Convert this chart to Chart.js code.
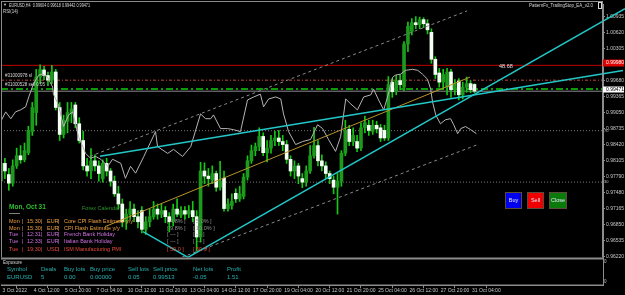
<!DOCTYPE html>
<html>
<head>
<meta charset="utf-8">
<script src="https://cdn.jsdelivr.net/npm/chart.js@4.4.0/dist/chart.umd.min.js"></script>
<style>
  html, body { margin: 0; padding: 0; background: #000; }
  canvas { display: block; }
</style>
</head>
<body>
<canvas id="grafico" width="625" height="295"></canvas>
<script>
// EURUSD H4 candles, bar 1 = 3 Oct 04:00
const opens = [
  0.9770, 0.9805, 0.9783, 0.9766, 0.9800, 0.9820, 0.9812, 0.9826, 0.9868, 0.9905,
  0.9975, 0.9989, 0.9978, 0.9969, 0.9985, 0.9915, 0.9862, 0.9888, 0.9905, 0.9920,
  0.9883, 0.9850, 0.9800, 0.9790, 0.9810, 0.9800, 0.9775, 0.9805, 0.9790, 0.9770,
  0.9745, 0.9725, 0.9690, 0.9705, 0.9715, 0.9700, 0.9712, 0.9675, 0.9690, 0.9700,
  0.9715, 0.9705, 0.9712, 0.9700, 0.9690, 0.9715, 0.9703, 0.9712, 0.9705, 0.9712,
  0.9700, 0.9660, 0.9790, 0.9780, 0.9772, 0.9785, 0.9758, 0.9776, 0.9716, 0.9722,
  0.9746, 0.9735, 0.9740, 0.9778, 0.9810, 0.9830, 0.9838, 0.9858, 0.9826, 0.9835,
  0.9850, 0.9855, 0.9848, 0.9842, 0.9813, 0.9790, 0.9800, 0.9775, 0.9768, 0.9790,
  0.9820, 0.9840, 0.9810, 0.9800, 0.9785, 0.9772, 0.9758, 0.9770, 0.9825, 0.9872,
  0.9848, 0.9848, 0.9835, 0.9875, 0.9880, 0.9868, 0.9880, 0.9875, 0.9870, 0.9855,
  0.9965, 0.9946, 0.9968, 0.9955, 1.0040, 1.0065, 1.0082, 1.0078, 1.0088, 1.0080,
  1.0063, 1.0010, 0.9983, 0.9965, 0.9955, 0.9985, 0.9950, 0.9967, 0.9940, 0.9955,
  0.9962, 0.99604
];
const highs = [
  0.9812, 0.9815, 0.9795, 0.9812, 0.9835, 0.9840, 0.9845, 0.9878, 0.9925, 0.9990,
  0.9999, 0.9996, 0.9985, 0.9998, 0.9990, 0.9925, 0.9900, 0.9925, 0.9925, 0.9925,
  0.9895, 0.9868, 0.9815, 0.9834, 0.9822, 0.9810, 0.9812, 0.9815, 0.9795, 0.9780,
  0.9760, 0.9735, 0.9715, 0.9730, 0.9725, 0.9712, 0.9720, 0.9700, 0.9715, 0.9730,
  0.9725, 0.9725, 0.9720, 0.9708, 0.9725, 0.9735, 0.9720, 0.9720, 0.9722, 0.9730,
  0.9712, 0.9807, 0.9806, 0.9795, 0.9800, 0.9790, 0.9809, 0.9790, 0.9735, 0.9745,
  0.9755, 0.9760, 0.9785, 0.9820, 0.9841, 0.9845, 0.9875, 0.9865, 0.9850, 0.9860,
  0.9868, 0.9870, 0.9860, 0.9850, 0.9820, 0.9810, 0.9805, 0.9785, 0.9800, 0.9840,
  0.9876, 0.9850, 0.9822, 0.9808, 0.9790, 0.9780, 0.9785, 0.9830, 0.9890, 0.9880,
  0.9875, 0.9860, 0.9885, 0.9898, 0.9890, 0.9890, 0.9888, 0.9882, 0.9880, 0.9976,
  0.9972, 0.9978, 0.9980, 1.0045, 1.0083, 1.0090, 1.0094, 1.0093, 1.0092, 1.0088,
  1.0070, 1.0015, 0.9992, 0.9990, 0.9992, 0.9990, 0.9970, 0.9972, 0.9965, 0.9975,
  0.9968, 0.99618
];
const lows = [
  0.9765, 0.9775, 0.9752, 0.9760, 0.9795, 0.9805, 0.9808, 0.9822, 0.9860, 0.9880,
  0.9962, 0.9970, 0.9958, 0.9962, 0.9910, 0.9850, 0.9855, 0.9865, 0.9885, 0.9875,
  0.9845, 0.9792, 0.9780, 0.9775, 0.9790, 0.9770, 0.9768, 0.9780, 0.9760, 0.9740,
  0.9715, 0.9680, 0.9675, 0.9695, 0.9690, 0.9678, 0.9668, 0.9665, 0.9680, 0.9695,
  0.9695, 0.9698, 0.9688, 0.9670, 0.9682, 0.9700, 0.9698, 0.9695, 0.9698, 0.9690,
  0.9632, 0.9650, 0.9765, 0.9760, 0.9765, 0.9750, 0.9752, 0.9711, 0.9711, 0.9715,
  0.9728, 0.9730, 0.9735, 0.9772, 0.9805, 0.9820, 0.9830, 0.9820, 0.9808, 0.9825,
  0.9840, 0.9840, 0.9830, 0.9805, 0.9780, 0.9775, 0.9765, 0.9757, 0.9760, 0.9785,
  0.9815, 0.9800, 0.9790, 0.9775, 0.9765, 0.9745, 0.9705, 0.9760, 0.9820, 0.9840,
  0.9840, 0.9828, 0.9830, 0.9865, 0.9860, 0.9862, 0.9865, 0.9848, 0.9850, 0.9850,
  0.9935, 0.9940, 0.9950, 0.9948, 1.0025, 1.0058, 1.0070, 1.0070, 1.0072, 1.0060,
  1.0002, 0.9972, 0.9955, 0.9950, 0.9940, 0.9935, 0.9940, 0.9930, 0.9932, 0.9945,
  0.9944, 0.99442
];
const closes = [
  0.9805, 0.9790, 0.9766, 0.9800, 0.9820, 0.9812, 0.9830, 0.9870, 0.9915, 0.9975,
  0.9990, 0.9978, 0.9969, 0.9985, 0.9915, 0.9862, 0.9890, 0.9905, 0.9912, 0.9883,
  0.9850, 0.9800, 0.9790, 0.9810, 0.9800, 0.9785, 0.9805, 0.9790, 0.9770, 0.9745,
  0.9725, 0.9690, 0.9705, 0.9715, 0.9700, 0.9690, 0.9675, 0.9690, 0.9700, 0.9715,
  0.9705, 0.9712, 0.9700, 0.9690, 0.9715, 0.9705, 0.9712, 0.9705, 0.9712, 0.9700,
  0.9660, 0.9790, 0.9780, 0.9775, 0.9785, 0.9758, 0.9770, 0.9716, 0.9725, 0.9730,
  0.9735, 0.9745, 0.9778, 0.9810, 0.9830, 0.9838, 0.9858, 0.9826, 0.9835, 0.9850,
  0.9855, 0.9848, 0.9842, 0.9813, 0.9790, 0.9800, 0.9780, 0.9768, 0.9790, 0.9820,
  0.9840, 0.9810, 0.9800, 0.9785, 0.9775, 0.9758, 0.9770, 0.9825, 0.9870, 0.9848,
  0.9860, 0.9835, 0.9875, 0.9885, 0.9870, 0.9880, 0.9873, 0.9855, 0.9855, 0.9960,
  0.9946, 0.9968, 0.9960, 1.0040, 1.0075, 1.0082, 1.0078, 1.0088, 1.0080, 1.0068,
  1.0010, 0.9980, 0.9965, 0.9980, 0.9985, 0.9950, 0.9962, 0.9940, 0.9955, 0.9962,
  0.9950, 0.99471
];
const bars = opens.map((_, k) => k + 1);

// RSI(14) line (bar position, value)
const rsiBars = [
  0.9, 2.2, 3.5, 4.7, 6.0, 7.3, 8.1, 9.3, 10.6, 11.6,
  12.9, 14.2, 14.4, 15.7, 17.0, 18.3, 19.3, 20.1, 20.8, 21.9,
  22.6, 23.9, 25.2, 26.5, 28.3, 29.5, 31.6, 32.8, 34.1, 35.4,
  37.5, 40.5, 41.0, 43.6, 45.1, 47.4, 49.5, 52.0, 53.3, 54.6,
  55.3, 57.1, 58.9, 60.4, 62.2, 64.0, 65.6, 67.3, 68.1, 69.4,
  71.2, 72.5, 73.2, 74.5, 76.3, 78.1, 80.1, 81.9, 83.2, 84.7,
  86.5, 87.8, 89.1, 90.4, 92.1, 93.7, 95.5, 96.2, 97.5, 98.8,
  99.8, 101.1, 101.8, 103.1, 104.4, 106.2, 107.5, 108.7, 110.0, 110.8,
  111.3, 112.1, 113.3, 114.6, 115.9, 116.7, 117.7, 118.5, 119.7, 121.0,
  122.5
];
const rsiValues = [
  53.9, 57.8, 55.1, 57.8, 58.6, 59.8, 63.7, 68.8, 72.3, 72.7,
  71.5, 67.6, 64.8, 60.5, 52.0, 56.6, 57.8, 52.7, 48.0, 44.1,
  41.4, 39.5, 40.2, 39.1, 36.3, 39.1, 37.5, 31.6, 36.3, 33.6,
  40.2, 50.0, 44.1, 41.4, 43.0, 40.2, 44.1, 57.0, 55.1, 55.1,
  56.6, 51.2, 51.2, 50.8, 50.0, 62.5, 63.7, 64.8, 59.8, 62.9,
  63.7, 62.9, 57.0, 50.0, 44.9, 46.1, 46.9, 52.7, 51.2, 46.9,
  42.2, 48.0, 62.9, 60.9, 58.6, 63.7, 64.5, 66.8, 62.5, 58.6,
  63.7, 71.5, 72.3, 72.7, 74.2, 74.6, 74.2, 72.7, 70.7, 66.8,
  61.7, 56.6, 53.1, 54.7, 55.1, 52.7, 49.2, 51.2, 52.0, 50.8,
  49.2
];

// trend objects: [startBar, startPrice, endBar, endPrice]
const cyanSteep   = [48.79, 0.96200, 160.47, 1.01098];
const cyanDown    = [37.29, 0.96707, 48.79, 0.96200];
const cyanFlat    = [26.3, 0.98188, 159.96, 0.99879];
const grayUpper   = [23.74, 0.98188, 120.1, 1.01052];
const grayLower   = [47.25, 0.96201, 122.9, 0.98422];
const goldLine    = [27.58, 0.96804, 120.86, 0.99748];

// horizontal levels
const levelRed    = 0.99980;
const levelSL     = 0.99688;
const levelOpen   = 0.99513;
const levelBid    = 0.99471;
const levelDots   = [0.98694, 0.97681];

// axes
const priceTicks  = [1.00935, 1.00620, 1.00305, 0.99990, 0.99680, 0.99365, 0.99050, 0.98735,
                     0.98420, 0.98105, 0.97790, 0.97480, 0.97165, 0.96850, 0.96535, 0.96220];
const timeTicks   = [1, 9, 17, 25, 33, 41, 49, 57, 65, 73, 81, 89, 97, 105, 113, 121];
const timeLabels  = ['3 Oct 2022', '4 Oct 12:00', '5 Oct 20:00', '7 Oct 04:00', '10 Oct 12:00',
                     '11 Oct 20:00', '13 Oct 04:00', '14 Oct 12:00', '17 Oct 20:00', '19 Oct 04:00',
                     '20 Oct 12:00', '21 Oct 20:00', '25 Oct 04:00', '26 Oct 12:00', '27 Oct 20:00',
                     '31 Oct 04:00'];

// calendar panel
const calDays     = ['Mon', 'Mon', 'Tue', 'Tue', 'Tue'];
const calTimes    = ['15:30', '15:30', '12:31', '12:33', '19:30'];
const calCurr     = ['EUR', 'EUR', 'EUR', 'EUR', 'USD'];
const calEvents   = ['Core CPI Flash Estimate y/y', 'CPI Flash Estimate y/y', 'French Bank Holiday',
                     'Italian Bank Holiday', 'ISM Manufacturing PMI'];
const calForecast = ['[ 4.8% ]', '[ 9.8% ]', '[ --- ]', '[ --- ]', '[ 50.0 ]'];
const calPrevious = ['[ 5.0% ]', '[ 10.0% ]', '[ --- ]', '[ --- ]', '[ 50.9 ]'];

// exposure panel
const expHeader   = ['Symbol', 'Deals', 'Buy lots', 'Buy price', 'Sell lots', 'Sell price', 'Net lots', 'Profit'];
const expValues   = ['EURUSD', '5', '0.00', '0.00000', '0.05', '0.99513', '-0.05', '1.51'];

// ---- layout (pixel mapping of the MT4 window) ----
const PX = 0.00019483;                 // price per pixel
const YMAX = 0.9622 + 255 * PX;        // price at y=1
const YMIN = 0.9622 - 29 * PX;         // price at y=285
const XMIN = 1, XMAX = 154.85;
const FONT = "'Liberation Sans', Arial, sans-serif";

const pts = (a) => [{ x: a[0], y: a[1] }, { x: a[2], y: a[3] }];
const hline = (p) => [{ x: XMIN, y: p }, { x: XMAX, y: p }];

const bodies = bars.map((b, k) => ({ x: b, y: [opens[k], closes[k]] }));
const wicks = bars.map((b, k) => ({ x: b, y: [lows[k], highs[k]] }));
const bodyColors = bars.map((b, k) => closes[k] >= opens[k] ? '#1c9a1c' : '#f2fff2');

function lineDs(data, color, width, dash, order, extra) {
  return Object.assign({
    type: 'line', data, borderColor: color, borderWidth: width, borderDash: dash || [],
    pointRadius: 0, tension: 0, order, yAxisID: 'y'
  }, extra || {});
}

function txt(ctx, s, x, y, color, size, bold, maxW) {
  ctx.font = (bold ? 'bold ' : '') + size + 'px ' + FONT;
  ctx.fillStyle = color;
  ctx.textBaseline = 'middle';
  ctx.textAlign = 'left';
  if (maxW) ctx.fillText(s, x, y, maxW); else ctx.fillText(s, x, y);
}

function button(ctx, label, x, y, w, h, fill) {
  ctx.fillStyle = fill;
  ctx.fillRect(x, y, w, h);
  ctx.strokeStyle = '#5a4a3a';
  ctx.lineWidth = 1;
  ctx.strokeRect(x + 0.5, y + 0.5, w - 1, h - 1);
  ctx.font = '5.5px ' + FONT;
  ctx.fillStyle = '#e8e8ff';
  ctx.textAlign = 'center';
  ctx.textBaseline = 'middle';
  ctx.fillText(label, x + w / 2, y + h / 2);
}

const overlay = {
  id: 'overlay',
  beforeDraw(chart) {
    const ctx = chart.ctx;
    ctx.save();
    ctx.fillStyle = '#000';
    ctx.fillRect(0, 0, chart.width, chart.height);
    ctx.restore();
  },
  afterDraw(chart) {
    const ctx = chart.ctx;
    ctx.save();

    // window frame, separator, sub window
    ctx.strokeStyle = '#8c8c8c';
    ctx.lineWidth = 1;
    ctx.strokeRect(1.5, 1.5, 601, 283);
    ctx.fillStyle = '#000';
    ctx.fillRect(1, 257.5, 602, 27);
    ctx.lineWidth = 2;
    ctx.beginPath(); ctx.moveTo(1, 258.5); ctx.lineTo(603, 258.5); ctx.stroke();

    // header texts
    txt(ctx, '\u25BC', 3, 5.3, '#d0d0d0', 4);
    txt(ctx, 'EURUSD,H4  0.99604 0.99618 0.99442 0.99471', 9, 5.3, '#d8d8d8', 5, false, 81);
    txt(ctx, 'RSI(14)', 3, 11.7, '#d8d8d8', 5, false, 15);
    txt(ctx, 'PatternFx_TrailingStop_EA_v2.0', 529, 5.7, '#d8d8d8', 5, false, 64);
    ctx.strokeStyle = '#d8d8d8'; ctx.lineWidth = 1;
    ctx.strokeRect(598.5, 2.5, 3, 6);

    // order labels
    txt(ctx, '#31000978 sl', 5, 76, '#d8d8d8', 4.5, false, 27);
    txt(ctx, '#31000528 sell 0.05', 5, 85, '#d8d8d8', 4.5, false, 40);
    txt(ctx, '48.68', 499, 66.5, '#e0e0e0', 5.5);

    // calendar
    txt(ctx, 'Mon, Oct 31', 9, 207, '#2fbf2f', 6.5, true);
    ctx.strokeStyle = '#808080'; ctx.lineWidth = 1;
    ctx.beginPath(); ctx.moveTo(9, 213.5); ctx.lineTo(20, 213.5); ctx.stroke();
    txt(ctx, 'Forex Calendar', 82, 208, '#2a962a', 5.5);
    const rowY = [221, 228, 234.5, 241.5, 249];
    const rowC = ['#f0a040', '#f0a040', '#d070e0', '#d070e0', '#e84a38'];
    const sideC = ['#909090', '#909090', '#909090', '#909090', '#e84a38'];
    rowY.forEach((y, k) => {
      txt(ctx, calDays[k], 9, y, rowC[k], 5.5);
      txt(ctx, '|', 22, y, rowC[k], 5.5);
      txt(ctx, calTimes[k], 27, y, rowC[k], 5.5);
      txt(ctx, '|', 41, y, rowC[k], 5.5);
      txt(ctx, calCurr[k], 47, y, rowC[k], 5.5);
      txt(ctx, '|', 58, y, rowC[k], 5.5);
      txt(ctx, calEvents[k], 64, y, rowC[k], 5.5);
      txt(ctx, calForecast[k], 167, y, sideC[k], 5.5);
      txt(ctx, calPrevious[k], 193, y, sideC[k], 5.5);
    });

    // buttons
    button(ctx, 'Buy', 505, 192, 17, 17, '#0000ee');
    button(ctx, 'Sell', 527, 192, 17, 17, '#ee0000');
    button(ctx, 'Close', 549, 192, 18, 17, '#0a7a0a');

    // exposure sub window
    txt(ctx, 'Exposure', 3, 263, '#d8d8d8', 4.5);
    const colX = [7, 41, 64, 90, 128, 153, 193, 227];
    expHeader.forEach((s, k) => txt(ctx, s, colX[k], 269.5, '#27b1b1', 6));
    expValues.forEach((s, k) => txt(ctx, s, colX[k], 277, '#27b1b1', 6));

    // price axis extras
    ctx.fillStyle = '#e00000';
    ctx.fillRect(603, 59.5, 21, 7);
    txt(ctx, '0.99980', 606, 63, '#ffffff', 5);
    ctx.fillStyle = '#ffffff';
    ctx.fillRect(603, 86.5, 21, 6);
    txt(ctx, '0.99471', 606, 89.5, '#000000', 5);
    txt(ctx, '70', 604, 131, '#c0c0c0', 4);
    txt(ctx, '30', 604, 182, '#c0c0c0', 4);
    txt(ctx, '0', 604, 262, '#c0c0c0', 4.5);
    txt(ctx, '0', 604, 282, '#c0c0c0', 4.5);

    ctx.restore();
  }
};

new Chart(document.getElementById('grafico'), {
  type: 'bar',
  data: {
    datasets: [
      lineDs(hline(levelDots[0]), '#7a7a7a', 1, [1, 2], 20),
      lineDs(hline(levelDots[1]), '#7a7a7a', 1, [1, 2], 20),
      lineDs(hline(levelRed), '#c00000', 1, [], 19),
      lineDs(hline(levelSL), '#c04848', 1, [3, 2, 1, 2], 19),
      lineDs(hline(levelOpen), '#0a9a0a', 2, [7, 3, 2, 3], 19),
      lineDs(hline(levelBid), '#8a8a8a', 1, [], 19),
      {
        type: 'bar', data: wicks, backgroundColor: '#14c814', barThickness: 1,
        grouped: false, order: 12, yAxisID: 'y'
      },
      {
        type: 'bar', data: bodies, backgroundColor: bodyColors, barThickness: 3,
        grouped: false, minBarLength: 1, order: 11, yAxisID: 'y'
      },
      {
        type: 'line', data: rsiBars.map((b, k) => ({ x: b, y: rsiValues[k] })),
        borderColor: '#b4b4b4', borderWidth: 1, pointRadius: 0, tension: 0,
        order: 5, yAxisID: 'yRsi'
      },
      lineDs(pts(grayUpper), '#8a8a8a', 1, [3, 3], 4),
      lineDs(pts(grayLower), '#8a8a8a', 1, [3, 3], 4),
      lineDs(pts(goldLine), '#b8942a', 1, [], 3),
      lineDs(pts(cyanDown), '#22c8c8', 1.5, [], 2),
      lineDs(pts(cyanFlat), '#22c8c8', 1.5, [], 2, { clip: false }),
      lineDs(pts(cyanSteep), '#22c8c8', 1.5, [], 2, { clip: false })
    ]
  },
  options: {
    responsive: false,
    devicePixelRatio: 1,
    animation: false,
    layout: { padding: { left: 1, top: 1, right: 0, bottom: 0 } },
    plugins: { legend: false, tooltip: { enabled: false } },
    scales: {
      x: {
        type: 'linear', min: XMIN, max: XMAX, offset: false,
        afterBuildTicks: (s) => { s.ticks = timeTicks.map(v => ({ value: v })); },
        afterFit: (s) => { s.height = 10; },
        ticks: {
          callback: (v, i) => timeLabels[i], align: 'start', labelOffset: 1.5,
          maxRotation: 0, autoSkip: false, padding: 0,
          color: '#c8c8c8', font: { family: FONT, size: 5 }
        },
        grid: { drawOnChartArea: false, tickLength: 3, color: '#8c8c8c' },
        border: { color: '#8c8c8c' }
      },
      y: {
        type: 'linear', position: 'right', min: YMIN, max: YMAX,
        afterBuildTicks: (s) => { s.ticks = priceTicks.map(v => ({ value: v })); },
        afterFit: (s) => { s.width = 22; },
        ticks: {
          callback: (v) => v.toFixed(5), padding: 1,
          color: '#c8c8c8', font: { family: FONT, size: 5 }
        },
        grid: { drawOnChartArea: false, tickLength: 2, color: '#8c8c8c' },
        border: { color: '#8c8c8c' }
      },
      yRsi: { type: 'linear', display: false, min: -10.55, max: 100.39 }
    }
  },
  plugins: [overlay]
});
</script>
</body>
</html>
